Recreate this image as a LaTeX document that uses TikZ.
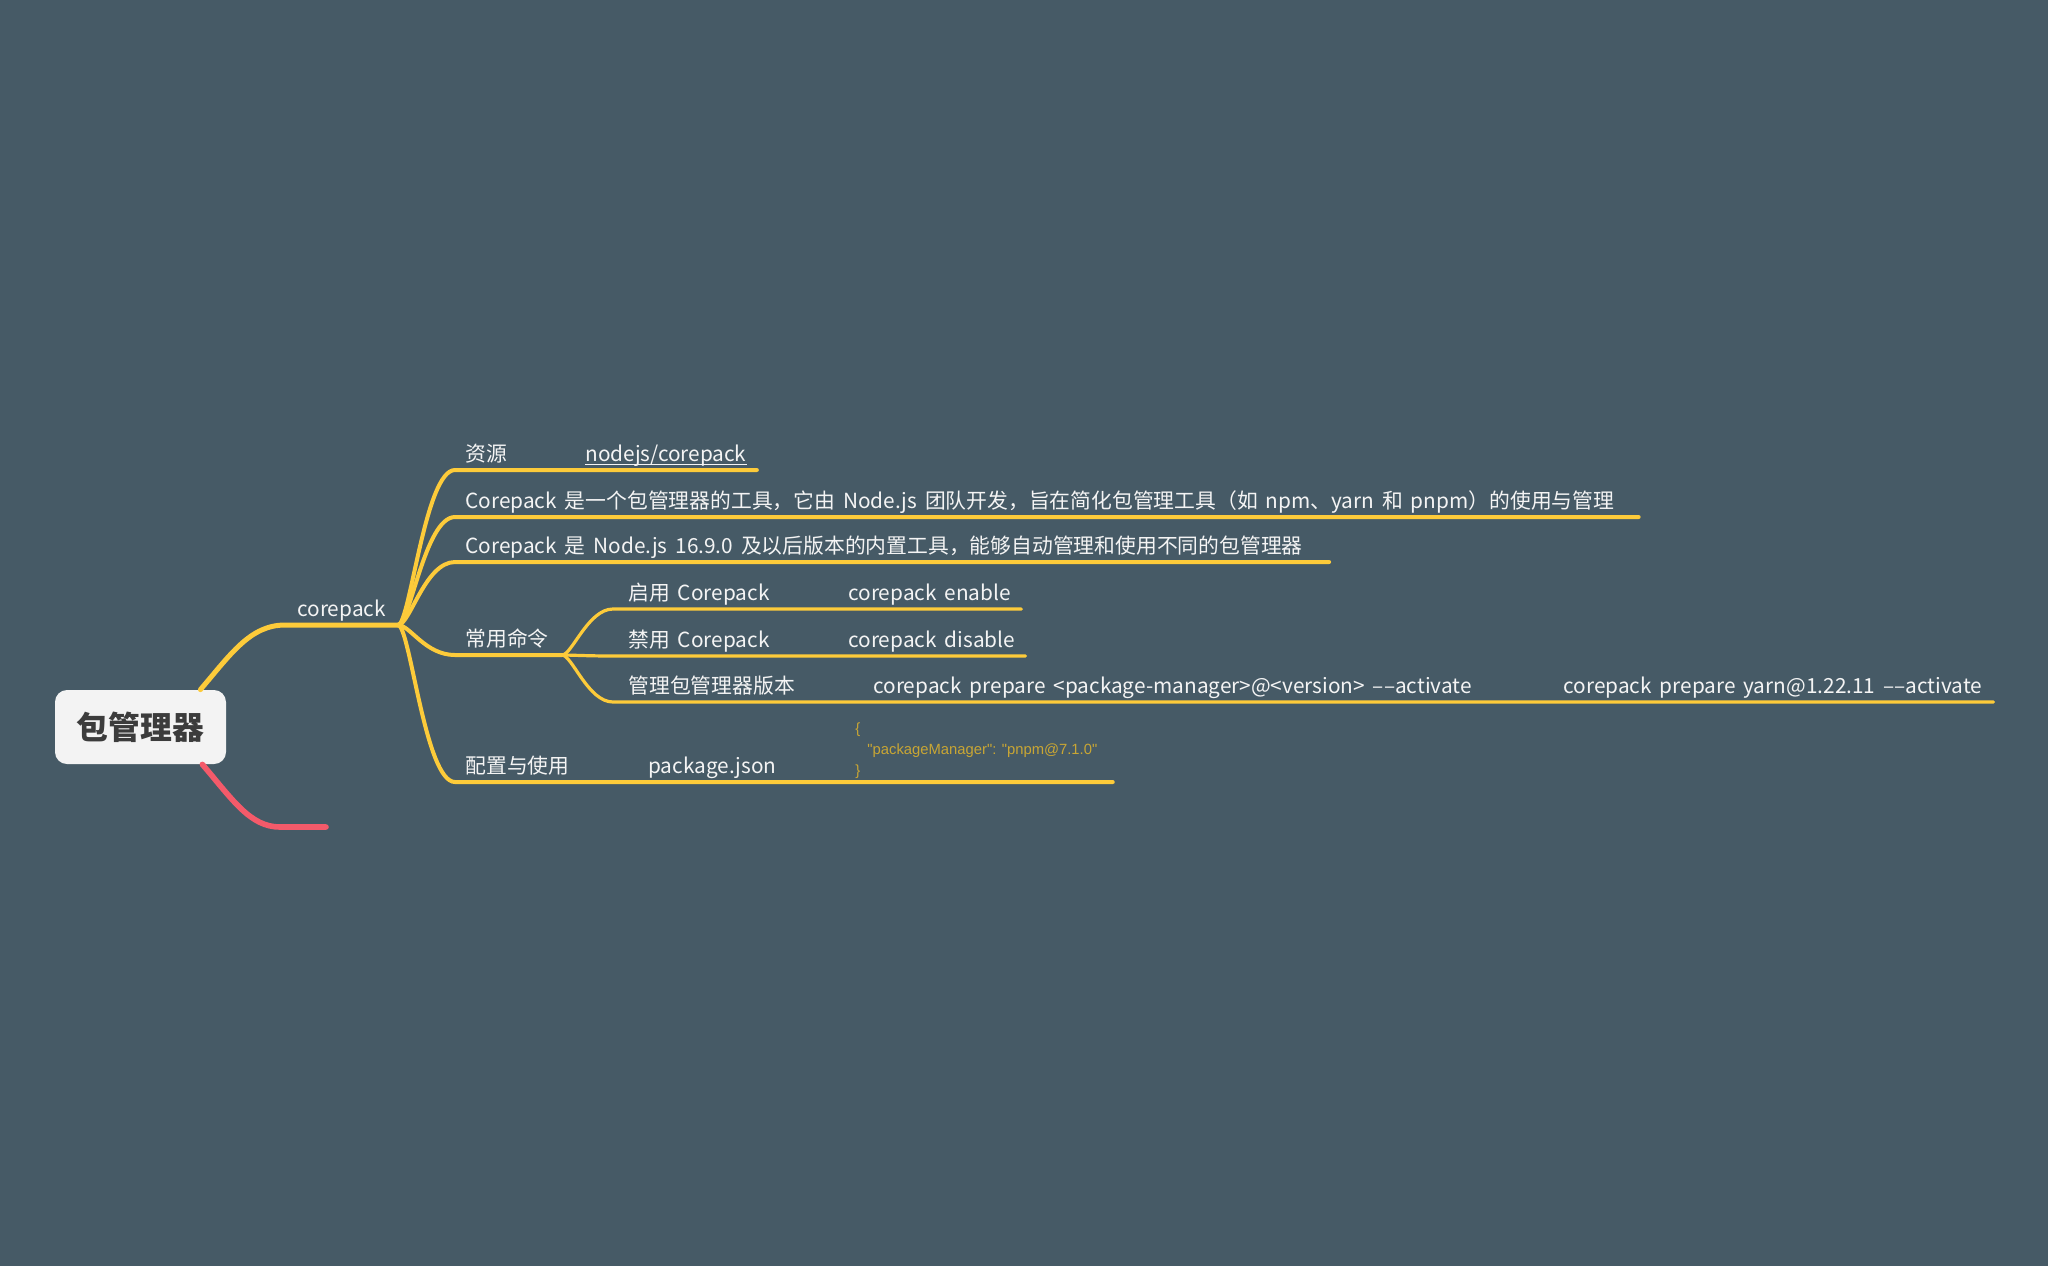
\documentclass[tikz,border=0pt]{standalone}
\usepackage{fontspec}
\setmainfont[WordSpace=1.7]{Noto Sans CJK SC}
\newfontfamily\codefont{Liberation Sans}
\usetikzlibrary{positioning, calc}
\definecolor{bgslate}{HTML}{465A66}
\definecolor{branchyellow}{HTML}{FDCB3A}
\definecolor{branchred}{HTML}{F45A6A}
\definecolor{rootfill}{HTML}{F3F3F3}
\definecolor{rootink}{HTML}{3C3C3C}
\definecolor{codeink}{HTML}{C9A634}
\definecolor{labelink}{HTML}{F4F4F4}

\begin{document}
\begin{tikzpicture}[x=0.5pt, y=-0.5pt,
  topic/.style={text=labelink, font=\fontsize{10.4}{12}\selectfont, inner sep=0pt, anchor=base west},
  rootbox/.style={fill=rootfill, rounded corners=6pt, minimum width=85.5pt, minimum height=37pt, text=rootink, font=\fontsize{15.9}{18}\selectfont\bfseries},
  codetext/.style={text=codeink, font=\codefont\fontsize{7.4}{10.5}\selectfont, inner sep=0pt, align=left, anchor=south west},
  mainline/.style={draw=branchyellow, line width=2.5pt, line cap=round},
  subline/.style={draw=branchyellow, line width=2pt, line cap=round},
  leafline/.style={draw=branchyellow, line width=1.6pt, line cap=round},
  redline/.style={draw=branchred, line width=2.8pt, line cap=round}]

  % canvas
  \fill[bgslate] (0,0) rectangle (2048,1266);
  \useasboundingbox (0,0) rectangle (2048,1266);

  % root and first level
  \node[rootbox] (root) at (140.5,727) {包管理器};
  \coordinate (root-up) at ($(root.north east)+(-26,0)$);
  \coordinate (root-down) at ($(root.south east)+(-24,0)$);
  \node[topic] (corepack) at (297,616) {corepack};
  \coordinate (cp-in) at (285,625);
  \coordinate (cp) at (398,625);
  \coordinate (red-bend) at (280,827);
  \coordinate (red-end) at (326,827);
  \draw[mainline] (root-up) .. controls +(30,-35) and +(-35,0) .. (cp-in) -- (cp);
  \draw[redline] (root-down) .. controls +(30,35) and +(-30,0) .. (red-bend) -- (red-end);

  % corepack topics
  \node[topic] (res) at (465,461) {资源};
  \node[topic] (res-link) at (585,461) {nodejs/corepack};
  \draw[labelink, line width=0.5pt] ($(res-link.base west)+(0,3)$) -- ($(res-link.base east)+(0,3)$);
  \draw[subline] (cp) .. controls +(12,0) and +(-30,0) .. ($(res.base west)+(-10,9)$) -- ($(res-link.base east)+(10,9)$);

  \node[topic] (intro) at (465,508) {Corepack 是一个包管理器的工具，它由 Node.js 团队开发，旨在简化包管理工具（如 npm、yarn 和 pnpm）的使用与管理};
  \draw[subline] (cp) .. controls +(12,0) and +(-30,0) .. ($(intro.base west)+(-10,9)$) -- ($(intro.base east)+(24,9)$);

  \node[topic] (builtin) at (465,553) {Corepack 是 Node.js 16.9.0 及以后版本的内置工具，能够自动管理和使用不同的包管理器};
  \draw[subline] (cp) .. controls +(12,0) and +(-30,0) .. ($(builtin.base west)+(-10,9)$) -- ($(builtin.base east)+(26,9)$);

  \node[topic] (cmds) at (465,646) {常用命令};
  \coordinate (cmds-j) at ($(cmds.base east)+(13,9)$);
  \draw[subline] (cp) .. controls +(12,0) and +(-30,0) .. ($(cmds.base west)+(-10,9)$) -- (cmds-j);

  \node[topic] (config) at (465,773) {配置与使用};
  \node[topic] (pkg) at (648,773) {package.json};
  \node[codetext] (pkg-code) at (855,779) {\{\\\hspace*{6pt}"packageManager": "pnpm@7.1.0"\\\}};
  \draw[subline] (cp) .. controls +(12,0) and +(-30,0) .. ($(config.base west)+(-10,9)$) -- ($(pkg.base -| pkg-code.east)+(15,9)$);

  % commands
  \node[topic] (enable) at (628,600) {启用 Corepack};
  \node[topic] (enable-cmd) at (848,600) {corepack enable};
  \draw[leafline] (cmds-j) .. controls +(10,0) and +(-25,0) .. ($(enable.base west)+(-15,9)$) -- ($(enable-cmd.base east)+(10,9)$);

  \node[topic] (disable) at (628,647) {禁用 Corepack};
  \node[topic] (disable-cmd) at (848,647) {corepack disable};
  \draw[leafline] (cmds-j) .. controls +(10,0) and +(-25,0) .. ($(disable.base west)+(-15,9)$) -- ($(disable-cmd.base east)+(10,9)$);

  \node[topic] (manage) at (628,693) {管理包管理器版本};
  \node[topic] (manage-cmd) at (873,693) {corepack prepare <package-manager>@<version> ––activate};
  \node[topic] (manage-eg) at (1563,693) {corepack prepare yarn@1.22.11 ––activate};
  \draw[leafline] (cmds-j) .. controls +(10,0) and +(-25,0) .. ($(manage.base west)+(-15,9)$) -- ($(manage-eg.base east)+(11,9)$);
\end{tikzpicture}
\end{document}
